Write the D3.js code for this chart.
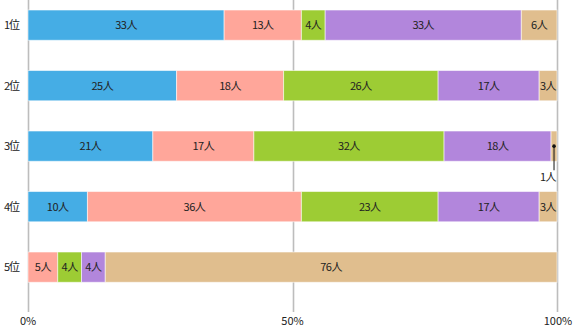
<!DOCTYPE html>
<html>
<head>
<meta charset="utf-8">
<script src="https://cdn.jsdelivr.net/npm/d3@7/dist/d3.min.js"></script>
<style>
  html, body { margin: 0; padding: 0; background: #fff; }
  svg { display: block; font-family: "Noto Sans CJK JP", "Noto Sans", sans-serif; }
</style>
</head>
<body>
<svg id="chart" width="574" height="330"></svg>
<script>
// Rankings (rows) and the answer options stacked in each row
const ranks = ["1位", "2位", "3位", "4位", "5位"];
const options = ["A", "B", "C", "D", "E"];
const colors = ["#45ade5", "#ffa69a", "#9dcc34", "#b286dc", "#e0be8e"];

// People per option, one array per option, in rank order
const optionA = [33, 25, 21, 10, 0];
const optionB = [13, 18, 17, 36, 5];
const optionC = [4, 26, 32, 23, 4];
const optionD = [33, 17, 18, 17, 4];
const optionE = [6, 3, 1, 3, 76];

const tickValues = [0, 0.5, 1];
const tickLabels = ["0%", "50%", "100%"];

const series = [optionA, optionB, optionC, optionD, optionE];
const rows = ranks.map((r, i) => {
  const o = { rank: r };
  options.forEach((k, j) => { o[k] = series[j][i]; });
  return o;
});

const svg = d3.select("#chart");
const x = d3.scaleLinear().domain([0, 1]).range([28, 557]);
const y = d3.scaleBand().domain(ranks).range([-5.1, 297.4]).paddingInner(0.5).paddingOuter(0.25);

const stacked = d3.stack().keys(options).offset(d3.stackOffsetExpand)(rows);

// Vertical grid lines (behind the bars)
svg.append("g")
  .selectAll("line")
  .data(tickValues)
  .join("line")
  .attr("x1", d => Math.round(x(d)) + 0.5)
  .attr("x2", d => Math.round(x(d)) + 0.5)
  .attr("y1", 0)
  .attr("y2", 312)
  .attr("stroke", "#bdbdbd")
  .attr("stroke-width", 1.6);

// Axis labels
svg.append("g")
  .selectAll("text")
  .data(tickValues)
  .join("text")
  .attr("x", d => x(d) + (d === 1 ? 1 : 0))
  .attr("y", 325)
  .attr("text-anchor", "middle")
  .attr("font-size", 11)
  .attr("fill", "#222")
  .text((d, i) => tickLabels[i]);

// Row labels
svg.append("g")
  .selectAll("text")
  .data(ranks)
  .join("text")
  .attr("x", 19)
  .attr("y", d => y(d) + y.bandwidth() / 2 + 4)
  .attr("text-anchor", "end")
  .attr("font-size", 11)
  .attr("letter-spacing", -1)
  .attr("fill", "#222")
  .text(d => d);

// Stacked segments
const layers = svg.append("g")
  .selectAll("g")
  .data(stacked)
  .join("g")
  .attr("fill", (d, i) => colors[i]);

layers.selectAll("rect")
  .data(d => d.map(s => ({ s, key: d.key })))
  .join("rect")
  .attr("x", d => x(d.s[0]))
  .attr("y", d => y(d.s.data.rank))
  .attr("width", d => x(d.s[1]) - x(d.s[0]))
  .attr("height", y.bandwidth())
  .attr("stroke", "#fff")
  .attr("stroke-opacity", 0.55)
  .attr("stroke-width", 1);

// Value labels
const labelData = [];
stacked.forEach(layer => {
  layer.forEach(s => {
    const v = s.data[layer.key];
    if (v > 0) labelData.push({ s, v, key: layer.key });
  });
});

const inside = labelData.filter(d => x(d.s[1]) - x(d.s[0]) >= 15);
const outside = labelData.filter(d => x(d.s[1]) - x(d.s[0]) < 15);

svg.append("g")
  .selectAll("text")
  .data(inside)
  .join("text")
  .attr("x", d => (x(d.s[0]) + x(d.s[1])) / 2)
  .attr("y", d => y(d.s.data.rank) + y.bandwidth() / 2 + 4)
  .attr("text-anchor", "middle")
  .attr("font-size", 11)
  .attr("letter-spacing", -0.5)
  .attr("fill", "#222")
  .text(d => d.v + "人");

// Callouts for segments too narrow to hold a label
const callouts = svg.append("g").selectAll("g").data(outside).join("g");
callouts.append("line")
  .attr("x1", d => (x(d.s[0]) + x(d.s[1])) / 2)
  .attr("x2", d => (x(d.s[0]) + x(d.s[1])) / 2)
  .attr("y1", d => y(d.s.data.rank) + y.bandwidth() / 2)
  .attr("y2", d => y(d.s.data.rank) + y.bandwidth() + 9)
  .attr("stroke", "#111")
  .attr("stroke-width", 1);
callouts.append("circle")
  .attr("cx", d => (x(d.s[0]) + x(d.s[1])) / 2)
  .attr("cy", d => y(d.s.data.rank) + y.bandwidth() / 2)
  .attr("r", 1.8)
  .attr("fill", "#111");
callouts.append("text")
  .attr("x", d => (x(d.s[0]) + x(d.s[1])) / 2 + 2)
  .attr("y", d => y(d.s.data.rank) + y.bandwidth() + 20)
  .attr("text-anchor", "end")
  .attr("font-size", 11)
  .attr("letter-spacing", -0.5)
  .attr("fill", "#222")
  .text(d => d.v + "人");
</script>
</body>
</html>
